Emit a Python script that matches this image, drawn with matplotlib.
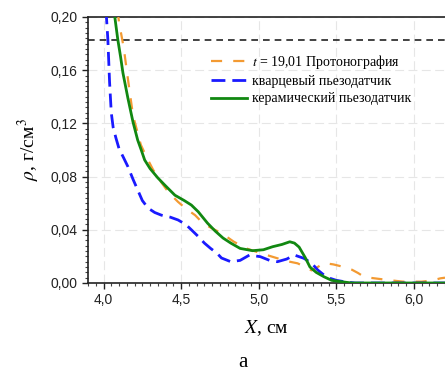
import numpy as np
import matplotlib.pyplot as plt
from matplotlib.ticker import MultipleLocator, FuncFormatter

plt.rcParams['mathtext.fontset'] = 'stix'

# протонография, t = 19,01
x_proton = [4.09, 4.10, 4.13, 4.16, 4.19, 4.24, 4.28, 4.32, 4.37, 4.42, 4.48, 4.53, 4.59,
            4.64, 4.70, 4.76, 4.84, 4.92, 5.01, 5.12, 5.20, 5.25, 5.30, 5.34, 5.38, 5.42,
            5.48, 5.55, 5.60, 5.64, 5.68, 5.74, 5.83, 5.93, 6.05, 6.12, 6.17, 6.2]
rho_proton = [0.205, 0.196, 0.177, 0.151, 0.126, 0.104, 0.094, 0.085, 0.076, 0.068, 0.061,
              0.056, 0.051, 0.045, 0.041, 0.0375, 0.031, 0.026, 0.0225, 0.0186, 0.016,
              0.0148, 0.012, 0.0095, 0.012, 0.015, 0.014, 0.012, 0.010, 0.0075, 0.0045,
              0.0036, 0.0023, 0.001, 0.001, 0.002, 0.0035, 0.004]

# кварцевый пьезодатчик
x_quartz = [4.016, 4.018, 4.028, 4.039, 4.050, 4.062, 4.080, 4.10, 4.13, 4.157,
            4.19, 4.22, 4.25, 4.287, 4.33, 4.373, 4.43, 4.48, 4.53, 4.566, 4.61, 4.65,
            4.69, 4.73, 4.76, 4.82, 4.88, 4.94, 5.01, 5.07, 5.12, 5.18, 5.23, 5.29, 5.34,
            5.38, 5.42, 5.46, 5.50, 5.55, 5.62, 5.8, 6.2]
rho_quartz = [0.205, 0.2015, 0.183, 0.151, 0.128, 0.117, 0.109, 0.101, 0.094,
              0.0875, 0.078, 0.070, 0.062, 0.0563, 0.053, 0.051, 0.0495, 0.0474, 0.044,
              0.040, 0.035, 0.030, 0.026, 0.0225, 0.0188, 0.016, 0.017, 0.021, 0.0198,
              0.017, 0.016, 0.018, 0.021, 0.0186, 0.015, 0.0098, 0.006, 0.0035, 0.002,
              0.001, 0.0, 0.0, 0.0]

# керамический пьезодатчик
x_ceramic = [4.068, 4.071, 4.092, 4.11, 4.125, 4.157, 4.19, 4.22, 4.243, 4.265, 4.30,
             4.35, 4.40, 4.46, 4.52, 4.566, 4.61, 4.67, 4.72, 4.77, 4.82, 4.88, 4.96,
             5.03, 5.09, 5.15, 5.20, 5.23, 5.26, 5.30, 5.33, 5.37, 5.42, 5.47, 5.53,
             5.60, 6.2]
rho_ceramic = [0.205, 0.2015, 0.183, 0.170, 0.158, 0.139, 0.121, 0.1075, 0.100, 0.0925,
               0.086, 0.079, 0.073, 0.066, 0.062, 0.0586, 0.0536, 0.045, 0.039, 0.0338,
               0.030, 0.026, 0.0243, 0.025, 0.0273, 0.029, 0.031, 0.030, 0.027, 0.019,
               0.012, 0.008, 0.0047, 0.002, 0.001, 0.0, 0.0]

rho_level = 0.1825

x_ticks = [4.0, 4.5, 5.0, 5.5, 6.0]
y_ticks = [0.00, 0.04, 0.08, 0.12, 0.16, 0.20]

fig = plt.figure(figsize=(4.45, 3.74), dpi=100)
ax = fig.add_axes([88 / 445, 1 - 283 / 374, 357 / 445, 266 / 374])

ax.axhline(rho_level, color='#222222', lw=1.2, ls=(0, (4, 3)), zorder=2)
ax.plot(x_proton, rho_proton, color='#f39a32', lw=1.6, ls=(0, (5, 5)),
        label=r'$t$ = 19,01 Протонография', zorder=3)
ax.plot(x_quartz, rho_quartz, color='#1a1aff', lw=2.0, ls=(0, (5, 2.5)),
        label='кварцевый пьезодатчик', zorder=4)
ax.plot(x_ceramic, rho_ceramic, color='#118811', lw=2.0,
        label='керамический пьезодатчик', zorder=5)

ax.set_xlim(3.9, 6.2)
ax.set_ylim(0, 0.2)
ax.set_xticks(x_ticks)
ax.set_yticks(y_ticks)
ax.xaxis.set_minor_locator(MultipleLocator(0.05))
ax.yaxis.set_minor_locator(MultipleLocator(0.004))
ax.xaxis.set_major_formatter(FuncFormatter(lambda v, p: f'{v:.1f}'.replace('.', ',')))
ax.yaxis.set_major_formatter(FuncFormatter(lambda v, p: f'{v:.2f}'.replace('.', ',')))
ax.tick_params(which='major', direction='out', length=4, width=1, labelsize=10,
               labelfontfamily='Liberation Sans', colors='#222222')
ax.tick_params(which='minor', direction='out', length=2, width=0.8, color='#444444')
ax.grid(True, which='major', color='#e6e6e6', lw=0.8, ls=(0, (8, 4)), zorder=0)

ax.spines['right'].set_visible(False)
for s in ['left', 'bottom', 'top']:
    ax.spines[s].set_linewidth(1.2)
    ax.spines[s].set_color('#222222')

ax.set_xlabel(r'$X$, см', fontfamily='Liberation Serif', fontsize=14, labelpad=8)
ax.set_ylabel(r'$\rho$, г/см$^3$', fontfamily='Liberation Serif', fontsize=14, labelpad=6)

leg = ax.legend(loc='upper left', bbox_to_anchor=(0.33, 0.885), frameon=False,
                prop={'family': 'Liberation Serif', 'size': 10}, handlelength=2.6,
                handletextpad=0.3, borderaxespad=0, labelspacing=0.3)

fig.text(0.545, 0.005, 'а', ha='center', va='bottom', fontfamily='Liberation Serif',
         fontsize=15)

fig.savefig('out.png', dpi=100)
